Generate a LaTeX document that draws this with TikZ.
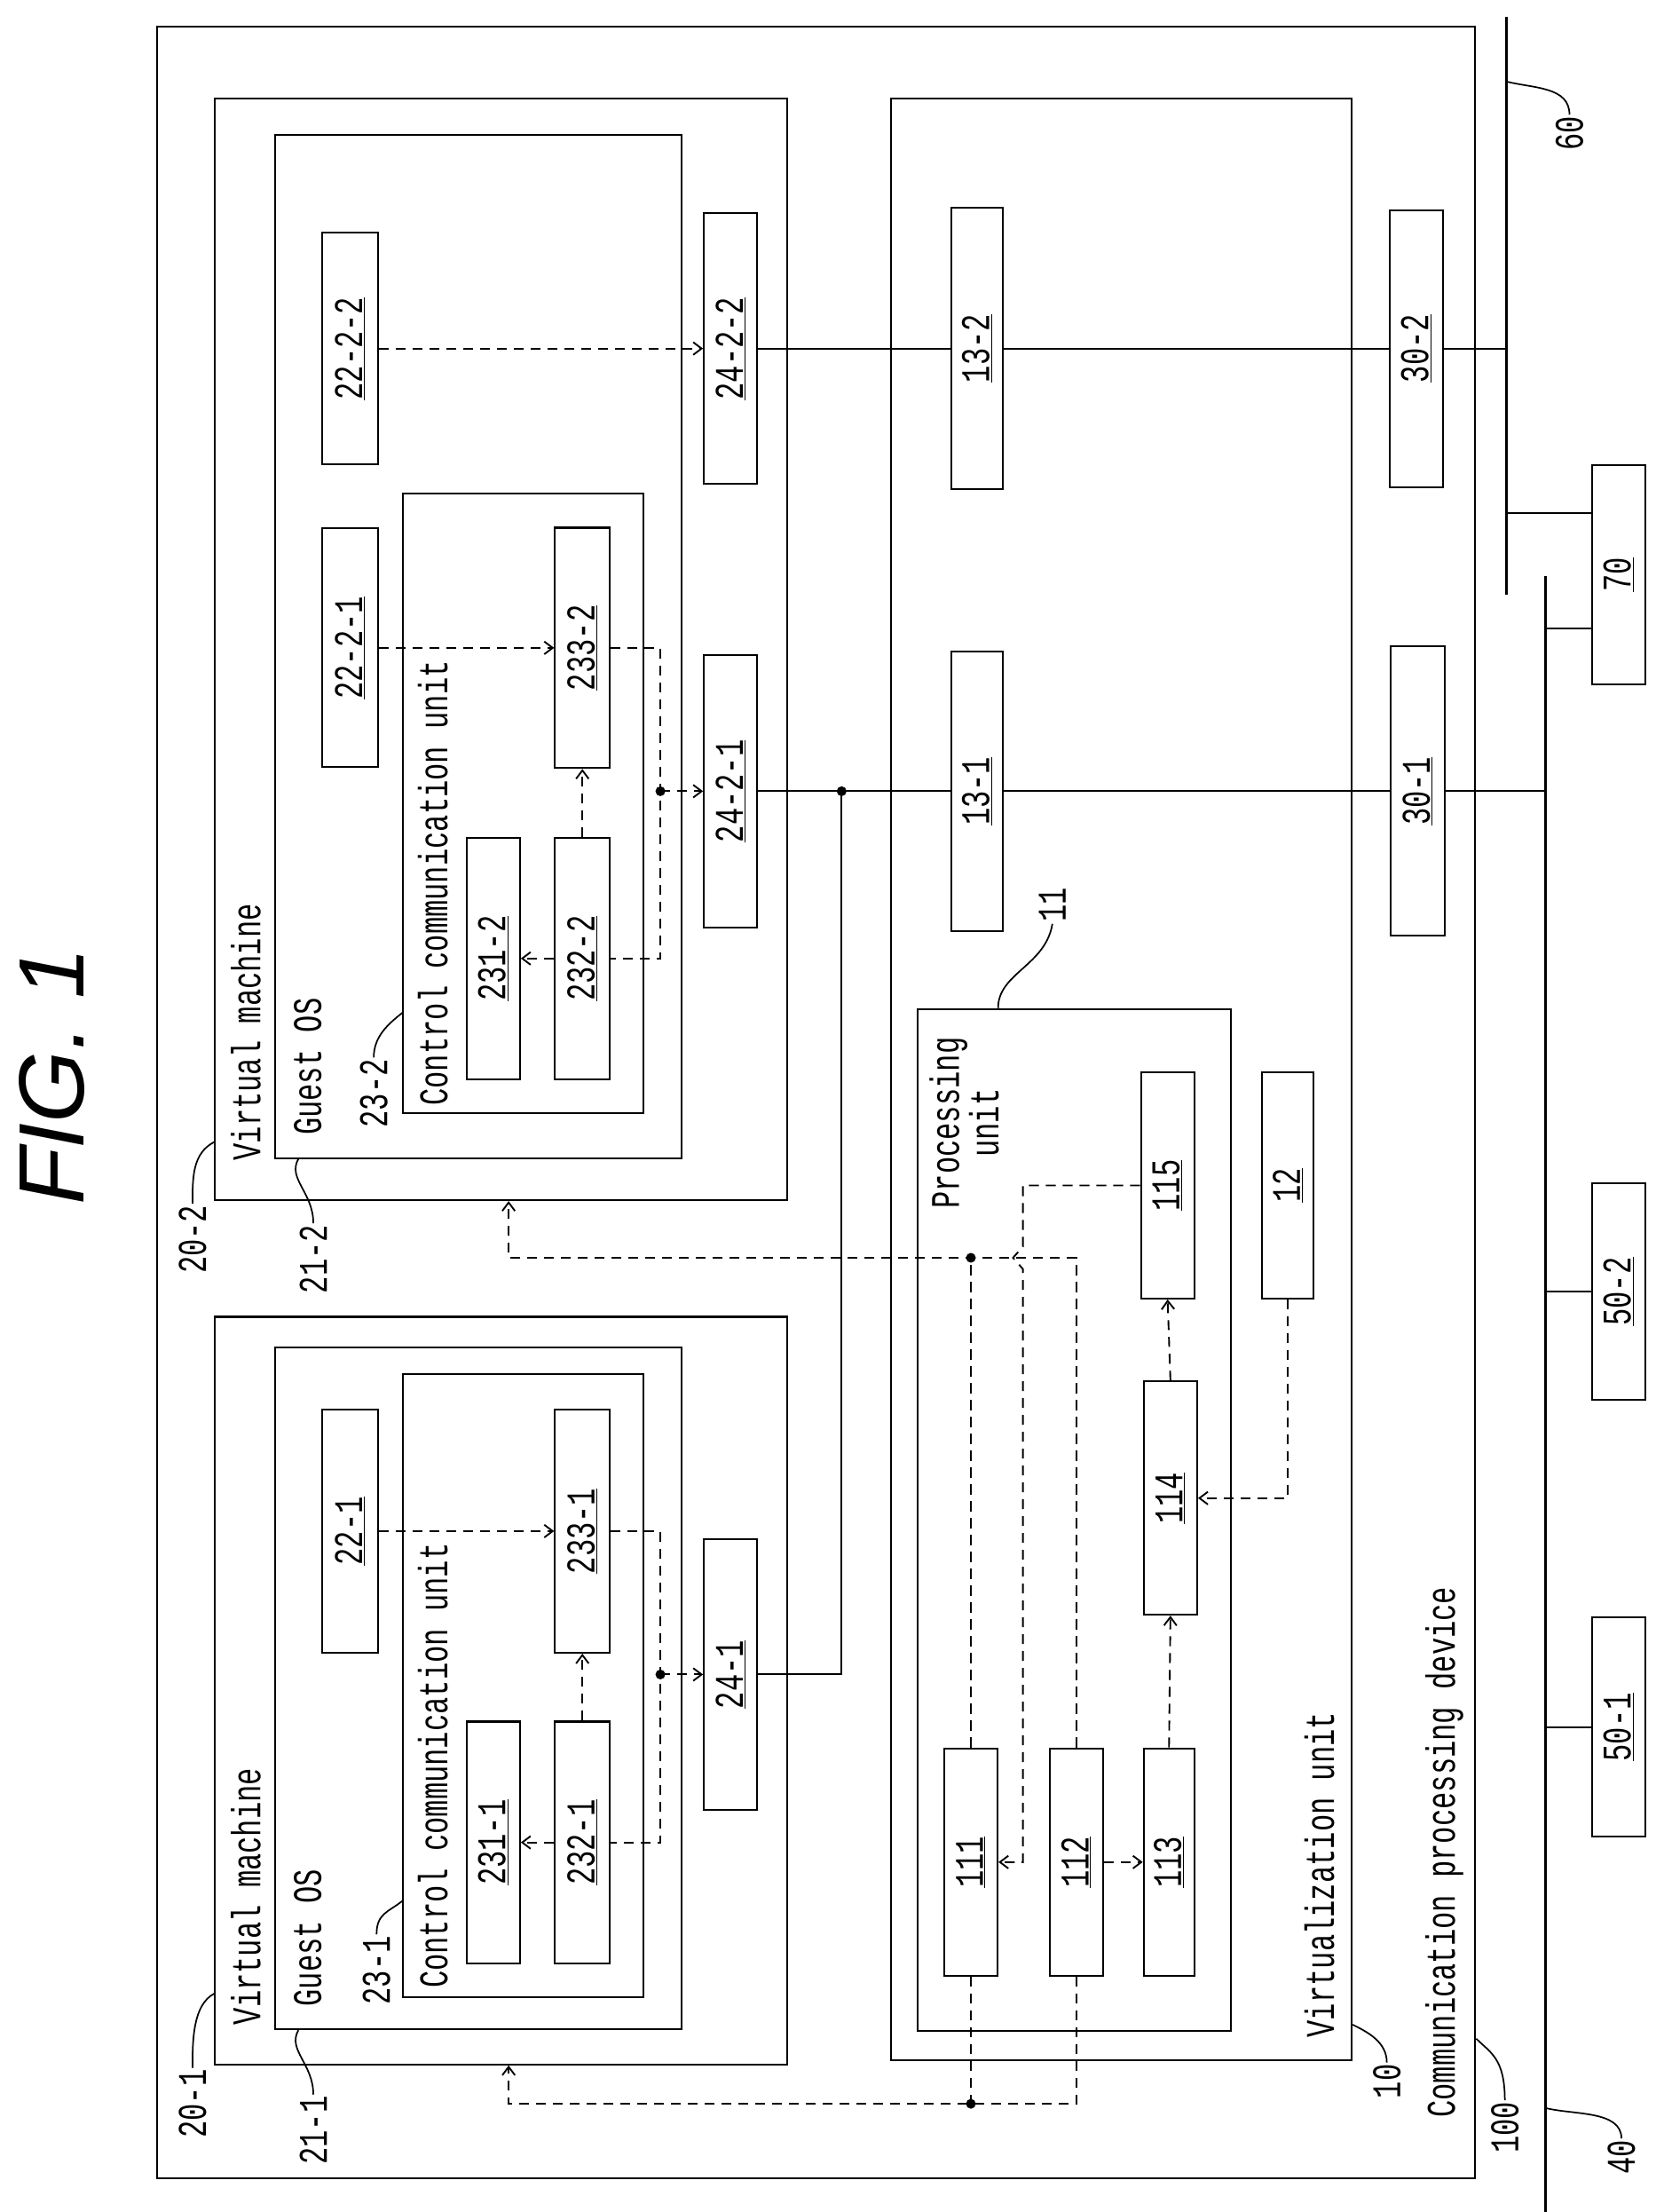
\documentclass[tikz,border=0pt]{standalone}
\usepackage{fontspec}
\usepackage{graphicx}
\newfontfamily\figfont[FakeStretch=0.7]{Liberation Mono}
\newfontfamily\titlefont{Liberation Sans}
\usetikzlibrary{arrows.meta,calc}

\newcommand{\rl}[1]{\rotatebox{90}{#1}}
\newcommand{\ul}[1]{\rotatebox{90}{\underline{#1}}}

\begin{document}
\begin{tikzpicture}[
    x=1pt, y=-1pt,
    every node/.style={font=\figfont\fontsize{29}{33}\selectfont},
    box/.style={draw, line width=1.3pt, inner sep=0pt},
    bx/.style n args={2}{box, minimum width=#1pt, minimum height=#2pt},
    lab/.style={rotate=90, inner sep=1pt},
    dsh/.style={line width=1.2pt, dash pattern=on 7pt off 5pt},
    flow/.style={dsh, -{Straight Barb[length=6pt,width=9pt]}},
    wire/.style={line width=1.2pt},
    bus/.style={line width=2pt},
    lead/.style={line width=1.1pt}
]
\useasboundingbox (0,0) rectangle (1184,1574);

% containers
\node[bx={938}{1531}] (dev100) at (581,784.5) {};
\node[bx={407}{532}] (vm1) at (356.5,1203) {};
\node[bx={407}{784}] (vm2) at (356.5,462) {};
\node[bx={289}{485}] (os1) at (340.5,1201.5) {};
\node[bx={289}{728}] (os2) at (340.5,460) {};
\node[bx={171}{443}] (cc1) at (372.5,1199.5) {};
\node[bx={171}{441}] (cc2) at (372.5,571.5) {};
\node[bx={328}{1396}] (virt10) at (798,768) {};
\node[bx={223}{727}] (proc11) at (764.5,1081.5) {};

% virtual machine 20-1
\node[bx={40}{173}] (b22a) at (249,1089.5) {\ul{22-1}};
\node[bx={39}{173}] (b233a) at (414.5,1089.5) {\ul{233-1}};
\node[bx={38}{172}] (b231a) at (351,1311) {\ul{231-1}};
\node[bx={39}{172}] (b232a) at (414.5,1311) {\ul{232-1}};
\node[bx={38}{193}] (b24a) at (520,1191.5) {\ul{24-1}};

% virtual machine 20-2
\node[bx={40}{165}] (b222b) at (249,248) {\ul{22-2-2}};
\node[bx={40}{170}] (b221b) at (249,461) {\ul{22-2-1}};
\node[bx={39}{171}] (b233b) at (414.5,461) {\ul{233-2}};
\node[bx={38}{172}] (b231b) at (351,682) {\ul{231-2}};
\node[bx={39}{172}] (b232b) at (414.5,682) {\ul{232-2}};
\node[bx={38}{193}] (b242b) at (520,248) {\ul{24-2-2}};
\node[bx={38}{194}] (b241b) at (520,563) {\ul{24-2-1}};

% virtualization unit
\node[bx={38}{162}] (b111) at (691,1325) {\ul{111}};
\node[bx={38}{162}] (b112) at (766,1325) {\ul{112}};
\node[bx={36}{162}] (b113) at (832,1325) {\ul{113}};
\node[bx={38}{166}] (b114) at (833,1066) {\ul{114}};
\node[bx={38}{161}] (b115) at (831,843.5) {\ul{115}};
\node[bx={37}{161}] (b12) at (916.5,843.5) {\ul{12}};
\node[bx={37}{199}] (b131) at (695.5,563) {\ul{13-1}};
\node[bx={37}{200}] (b132) at (695.5,248) {\ul{13-2}};
\node[bx={38}{206}] (b301) at (1009,563) {\ul{30-1}};
\node[bx={38}{197}] (b302) at (1008,248) {\ul{30-2}};

% outside
\node[bx={38}{156}] (b70) at (1152,409) {\ul{70}};
\node[bx={38}{156}] (b501) at (1152,1229) {\ul{50-1}};
\node[bx={38}{154}] (b502) at (1152,919) {\ul{50-2}};
\coordinate (bus60t) at (1072,12);
\coordinate (bus60b) at (1072,423);
\coordinate (bus40t) at (1100,410);
\coordinate (bus40b) at (1100,1574);
\draw[bus] (bus60t) -- (bus60b);
\draw[bus] (bus40t) -- (bus40b);

% texts
\node[lab, anchor=west] at (175,1442) {Virtual machine};
\node[lab, anchor=west] at (175,827) {Virtual machine};
\node[lab, anchor=west] at (219,1429) {Guest OS};
\node[lab, anchor=west] at (219,809) {Guest OS};
\node[lab, anchor=west] at (308,1416) {Control communication unit};
\node[lab, anchor=west] at (308,788) {Control communication unit};
\node[lab, anchor=west] at (939,1451) {Virtualization unit};
\node[lab, anchor=west] at (1028,1508) {Communication processing device};
\node at (690,799) {\rl{\begin{tabular}{@{}c@{}}Processing\\[-5pt]unit\end{tabular}}};
\node[rotate=90, font=\titlefont\itshape\fontsize{66}{70}\selectfont] (fig) at (37,766) {FIG. 1};

% reference labels
\node[lab] (l201) at (137,1497) {20-1};
\node[lab] (l202) at (137,882) {20-2};
\node[lab] (l211) at (223,1516) {21-1};
\node[lab] (l212) at (223,896) {21-2};
\node[lab] (l231) at (268,1402) {23-1};
\node[lab] (l232) at (266,778) {23-2};
\node[lab] (l11) at (749,644) {11};
\node[lab] (l10) at (987,1481) {10};
\node[lab] (l100) at (1071,1514) {100};
\node[lab] (l40) at (1154,1535) {40};
\node[lab] (l60) at (1117,95) {60};
\draw[lead] (l201.east) .. controls +(0,-20) and +(-15,8) .. ($(vm1.south west)+(0,-51)$);
\draw[lead] (l202.east) .. controls +(0,-20) and +(-15,8) .. ($(vm2.south west)+(0,-42)$);
\draw[lead] (l211.east) .. controls +(0,-22) and +(-8,14) .. ($(os1.south west)+(17,0)$);
\draw[lead] (l212.east) .. controls +(0,-22) and +(-8,14) .. ($(os2.south west)+(17,0)$);
\draw[lead] (l231.east) .. controls +(0,-15) and +(-10,8) .. ($(cc1.south west)+(0,-69)$);
\draw[lead] (l232.east) .. controls +(0,-15) and +(-10,8) .. ($(cc2.south west)+(0,-72)$);
\draw[lead] (l11.west) .. controls +(-5,30) and +(0,-25) .. ($(proc11.north west)+(58,0)$);
\draw[lead] (l10.east) .. controls +(0,-15) and +(10,5) .. ($(virt10.south east)+(0,-26)$);
\draw[lead] (l100.east) .. controls +(0,-30) and +(10,10) .. ($(dev100.south east)+(0,-100)$);
\draw[lead] (l40.east) .. controls +(0,-20) and +(20,5) .. ($(bus40b)+(0,-74)$);
\draw[lead] (l60.east) .. controls +(0,-20) and +(20,5) .. ($(bus60t)+(0,46)$);

% solid wiring
\coordinate (j1) at (599,563);
\draw[wire] (b242b.east) -- (b132.west);
\draw[wire] (b132.east) -- (b302.west);
\draw[wire] (b302.east) -- (b302.east -| bus60t);
\draw[wire] (b241b.east) -- (b131.west);
\draw[wire] (b131.east) -- (b301.west);
\draw[wire] (b301.east) -- (b301.east -| bus40t);
\draw[wire] (b24a.east) -| (j1);
\fill (j1) circle (3.5pt);
\coordinate (t70a) at (1072,365);
\coordinate (t70b) at (1100,447);
\draw[wire] (t70a) -- (t70a -| b70.west);
\draw[wire] (t70b) -- (t70b -| b70.west);
\draw[wire] (b501.west -| bus40t) -- (b501.west);
\draw[wire] (b502.west -| bus40t) -- (b502.west);

% control flows in the guests
\coordinate (s1) at (470,1191.5);
\coordinate (s2) at (470,563);
\draw[flow] (b22a.east) -- (b233a.west);
\draw[flow] (b232a.north) -- (b233a.south);
\draw[flow] (b232a.west) -- (b231a.east);
\draw[dsh] (b233a.east) -| (s1) |- (b232a.east);
\draw[flow] (s1) -- (b24a.west);
\fill (s1) circle (3.5pt);
\draw[flow] (b221b.east) -- (b233b.west);
\draw[flow] (b222b.east) -- (b242b.west);
\draw[flow] (b232b.north) -- (b233b.south);
\draw[flow] (b232b.west) -- (b231b.east);
\draw[dsh] (b233b.east) -| (s2) |- (b232b.east);
\draw[flow] (s2) -- (b241b.west);
\fill (s2) circle (3.5pt);

% processing unit flows
\coordinate (a1) at (362,1497);
\coordinate (a2) at (362,895);
\coordinate (h1) at (728,895);
\draw[flow] (b112.east) -- (b113.west);
\draw[flow] (b113.north) -- (b114.south);
\draw[flow] (b114.north) -- (b115.south);
\draw[flow] (b12.south) |- (b114.east);
\draw[flow] (b115.west) -| ($(h1)+(0,-8)$) -- ($(h1)+(-7,0)$) -- ($(h1)+(0,8)$) |- (b111.east);
\draw[flow] (b112.north) |- (a2) -- (a2 |- vm2.south);
\draw[flow] (b112.south) |- (a1) -- (a1 |- vm1.south);
\draw[dsh] (b111.north) -- (b111.north |- a2);
\draw[dsh] (b111.south) -- (b111.south |- a1);
\fill (b111.north |- a2) circle (3.5pt);
\fill (b111.south |- a1) circle (3.5pt);
\end{tikzpicture}
\end{document}
